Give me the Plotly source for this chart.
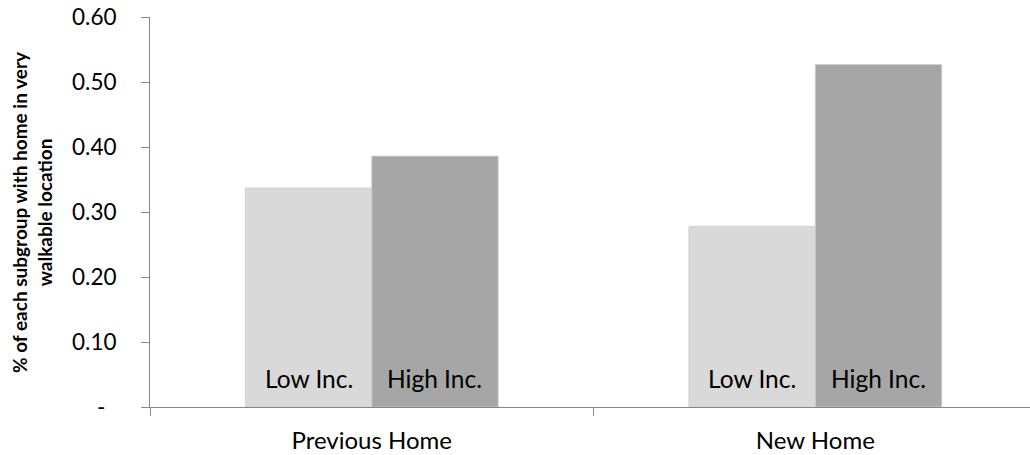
import plotly.graph_objects as go

categories = ["Previous Home", "New Home"]
series_names = ["Low Inc.", "High Inc."]
low_inc = [0.337, 0.278]
high_inc = [0.386, 0.527]
colors = ["#d9d9d9", "#a6a6a6"]
tick_vals = [0, 0.1, 0.2, 0.3, 0.4, 0.5, 0.6]
tick_text = ["-\u2002", "0.10", "0.20", "0.30", "0.40", "0.50", "0.60"]
y_title = "% of each subgroup with home in very<br>walkable location"

FONT = "Lato, 'Open Sans', sans-serif"
BAR_PX = 126  # width of one bar in px, used to offset labels

fig = go.Figure()
for name, vals, col in zip(series_names, [low_inc, high_inc], colors):
    fig.add_trace(go.Bar(
        x=categories, y=vals, name=name,
        marker=dict(color=col, line=dict(color="#cfcfcf", width=0.8)),
        hoverinfo="y",
    ))

# in-bar labels at the base of each bar
for i, name in enumerate(series_names):
    shift = (-0.5 if i == 0 else 0.5) * BAR_PX
    for cat in categories:
        fig.add_annotation(
            x=cat, y=0, xref="x", yref="y",
            text=name, showarrow=False,
            xanchor="center", yanchor="bottom",
            xshift=shift, yshift=12,
            font=dict(family=FONT, size=24.5, color="#000000"),
        )

fig.update_layout(
    width=1030, height=455,
    margin=dict(l=150, r=0, t=17, b=48),
    barmode="group", bargap=0.43, bargroupgap=0,
    plot_bgcolor="white", paper_bgcolor="white",
    showlegend=False,
    font=dict(family=FONT, color="#000000"),
)
fig.update_xaxes(
    range=[-0.5, 1.484],
    showline=True, linecolor="#868686", linewidth=1,
    ticks="outside", tickson="boundaries", ticklen=8, tickcolor="#868686",
    ticklabelstandoff=12,
    tickfont=dict(family=FONT, size=24, color="#000000"),
    showgrid=False, zeroline=False,
)
fig.update_yaxes(
    range=[0, 0.6],
    tickvals=tick_vals, ticktext=tick_text,
    showline=True, linecolor="#868686", linewidth=1,
    ticks="outside", ticklen=8, tickcolor="#868686",
    ticklabelstandoff=20,
    tickfont=dict(family=FONT, size=22.5, color="#000000"),
    showgrid=False, zeroline=False,
)
fig.add_annotation(
    text="<b>" + y_title + "</b>",
    xref="paper", yref="paper", x=0, y=0.5,
    xshift=-118, xanchor="center", yanchor="middle",
    textangle=-90, showarrow=False,
    font=dict(family=FONT, size=19, color="#000000"),
)

fig.write_html("out.html")
